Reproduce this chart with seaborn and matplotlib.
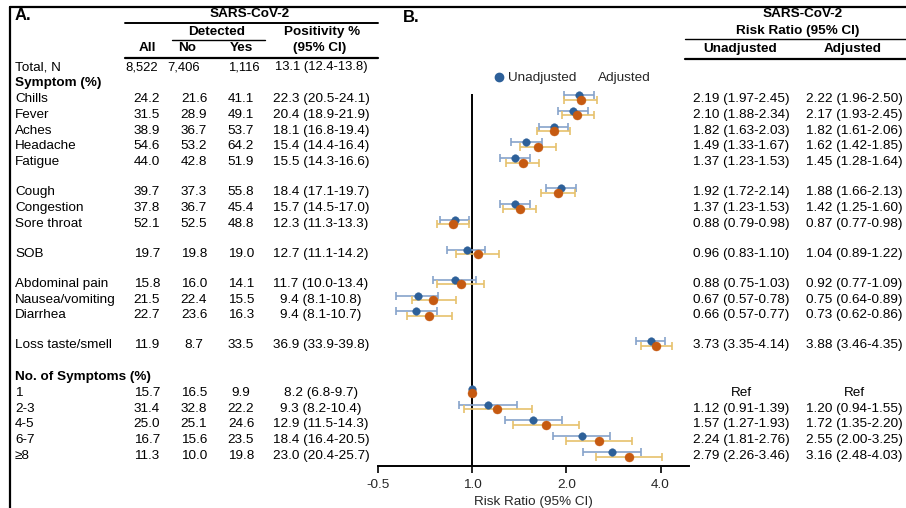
import matplotlib
matplotlib.use("Agg")
import matplotlib.pyplot as plt
from matplotlib.lines import Line2D
import seaborn as sns
import pandas as pd

# Tabla A: porcentajes por síntoma
symptoms = ["Chills", "Fever", "Aches", "Headache", "Fatigue",
            "Cough", "Congestion", "Sore throat",
            "SOB",
            "Abdominal pain", "Nausea/vomiting", "Diarrhea",
            "Loss taste/smell"]
symptom_group = [0, 0, 0, 0, 0, 1, 1, 1, 2, 3, 3, 3, 4]
all_pct = [24.2, 31.5, 38.9, 54.6, 44.0, 39.7, 37.8, 52.1, 19.7, 15.8, 21.5, 22.7, 11.9]
no_pct = [21.6, 28.9, 36.7, 53.2, 42.8, 37.3, 36.7, 52.5, 19.8, 16.0, 22.4, 23.6, 8.7]
yes_pct = [41.1, 49.1, 53.7, 64.2, 51.9, 55.8, 45.4, 48.8, 19.0, 14.1, 15.5, 16.3, 33.5]
positivity = ["22.3 (20.5-24.1)", "20.4 (18.9-21.9)", "18.1 (16.8-19.4)", "15.4 (14.4-16.4)",
              "15.5 (14.3-16.6)", "18.4 (17.1-19.7)", "15.7 (14.5-17.0)", "12.3 (11.3-13.3)",
              "12.7 (11.1-14.2)", "11.7 (10.0-13.4)", "9.4 (8.1-10.8)", "9.4 (8.1-10.7)",
              "36.9 (33.9-39.8)"]

# Razón de riesgo por síntoma
rr_unadj = [2.19, 2.10, 1.82, 1.49, 1.37, 1.92, 1.37, 0.88, 0.96, 0.88, 0.67, 0.66, 3.73]
lo_unadj = [1.97, 1.88, 1.63, 1.33, 1.23, 1.72, 1.23, 0.79, 0.83, 0.75, 0.57, 0.57, 3.35]
hi_unadj = [2.45, 2.34, 2.03, 1.67, 1.53, 2.14, 1.53, 0.98, 1.10, 1.03, 0.78, 0.77, 4.14]
rr_adj = [2.22, 2.17, 1.82, 1.62, 1.45, 1.88, 1.42, 0.87, 1.04, 0.92, 0.75, 0.73, 3.88]
lo_adj = [1.96, 1.93, 1.61, 1.42, 1.28, 1.66, 1.25, 0.77, 0.89, 0.77, 0.64, 0.62, 3.46]
hi_adj = [2.50, 2.45, 2.06, 1.85, 1.64, 2.13, 1.60, 0.98, 1.22, 1.09, 0.89, 0.86, 4.35]

# Número de síntomas
n_symptoms = ["1", "2-3", "4-5", "6-7", "\u22658"]
ns_all = [15.7, 31.4, 25.0, 16.7, 11.3]
ns_no = [16.5, 32.8, 25.1, 15.6, 10.0]
ns_yes = [9.9, 22.2, 24.6, 23.5, 19.8]
ns_positivity = ["8.2 (6.8-9.7)", "9.3 (8.2-10.4)", "12.9 (11.5-14.3)",
                 "18.4 (16.4-20.5)", "23.0 (20.4-25.7)"]
ns_rr_unadj = [1.0, 1.12, 1.57, 2.24, 2.79]
ns_lo_unadj = [1.0, 0.91, 1.27, 1.81, 2.26]
ns_hi_unadj = [1.0, 1.39, 1.93, 2.76, 3.46]
ns_rr_adj = [1.0, 1.20, 1.72, 2.55, 3.16]
ns_lo_adj = [1.0, 0.94, 1.35, 2.00, 2.48]
ns_hi_adj = [1.0, 1.55, 2.20, 3.25, 4.03]

total_n = ["8,522", "7,406", "1,116", "13.1 (12.4-13.8)"]

x_ticks = [0.5, 1.0, 2.0, 4.0]
x_tick_labels = ["-0.5", "1.0", "2.0", "4.0"]

BLUE = "#2d6099"
ORANGE = "#c65a11"
BLUE_CI = "#86a3cb"
ORANGE_CI = "#e6c16c"

W, H = 906, 508
FS = 9.7

sns.set_theme(style="white")
plt.rcParams["font.family"] = ["Liberation Sans", "DejaVu Sans"]

fig = plt.figure(figsize=(W / 100, H / 100), dpi=100)
fig.patch.set_facecolor("white")


def fx(x):
    return x / W


def fy(y):
    return 1 - y / H


def txt(x, y, s, ha="center", bold=False, size=FS):
    fig.text(fx(x), fy(y), s, ha=ha, va="center", fontsize=size,
             fontweight="bold" if bold else "normal", color="black")


def hline(x0, x1, y, lw=1.0):
    fig.add_artist(Line2D([fx(x0), fx(x1)], [fy(y), fy(y)], transform=fig.transFigure,
                          color="black", lw=lw))


# posiciones de las filas (píxeles)
step = 15.8
gap = 14.2
sym_y = []
y = 99.0
for i, g in enumerate(symptom_group):
    if i > 0:
        y += step + (gap if g != symptom_group[i - 1] else 0)
    sym_y.append(y)
ns_head_y = sym_y[-1] + 2 * step
ns_y = [ns_head_y + step * (i + 1) for i in range(len(n_symptoms))]

# marco
hline(10, W, 7, lw=1.6)
fig.add_artist(Line2D([fx(10), fx(10)], [fy(7), 0], transform=fig.transFigure, color="black", lw=1.6))

# encabezados tabla A
txt(15, 15, "A.", ha="left", bold=True, size=12)
txt(250, 14, "SARS-CoV-2", bold=True)
hline(125, 378, 23, lw=1.4)
txt(217, 32, "Detected", bold=True)
hline(172, 265, 40, lw=1.0)
txt(322, 32, "Positivity %", bold=True)
txt(320, 48, "(95% CI)", bold=True)
txt(147, 48, "All", bold=True)
txt(187, 48, "No", bold=True)
txt(241, 48, "Yes", bold=True)
hline(125, 378, 58, lw=1.6)

# encabezados tabla B
txt(403, 18, "B.", ha="left", bold=True, size=12)
txt(803, 14, "SARS-CoV-2", bold=True)
txt(798, 31, "Risk Ratio (95% CI)", bold=True)
hline(685, W, 39, lw=1.0)
txt(740, 49, "Unadjusted", bold=True)
txt(853, 49, "Adjusted", bold=True)
hline(685, W, 59, lw=1.6)

col_x = [147, 194, 241, 321]

# fila total
txt(15, 67, "Total, N", ha="left")
for x, s in zip([142, 184, 244, 321], total_n):
    txt(x, 67, s, size=9.4)
txt(15, 83, "Symptom (%)", ha="left", bold=True)

for i, name in enumerate(symptoms):
    yy = sym_y[i]
    txt(15, yy, name, ha="left")
    for x, v in zip(col_x, [f"{all_pct[i]:.1f}", f"{no_pct[i]:.1f}", f"{yes_pct[i]:.1f}", positivity[i]]):
        txt(x, yy, v)
    txt(741, yy, f"{rr_unadj[i]:.2f} ({lo_unadj[i]:.2f}-{hi_unadj[i]:.2f})")
    txt(854, yy, f"{rr_adj[i]:.2f} ({lo_adj[i]:.2f}-{hi_adj[i]:.2f})")

txt(15, ns_head_y, "No. of Symptoms (%)", ha="left", bold=True)
for i, name in enumerate(n_symptoms):
    yy = ns_y[i]
    txt(15, yy, name, ha="left")
    for x, v in zip(col_x, [f"{ns_all[i]:.1f}", f"{ns_no[i]:.1f}", f"{ns_yes[i]:.1f}", ns_positivity[i]]):
        txt(x, yy, v)
    if i == 0:
        txt(741, yy, "Ref")
        txt(854, yy, "Ref")
    else:
        txt(741, yy, f"{ns_rr_unadj[i]:.2f} ({ns_lo_unadj[i]:.2f}-{ns_hi_unadj[i]:.2f})")
        txt(854, yy, f"{ns_rr_adj[i]:.2f} ({ns_lo_adj[i]:.2f}-{ns_hi_adj[i]:.2f})")

# gráfico de bosque
ax = fig.add_axes([fx(378), 42 / H, 311 / W, 406 / H])
ax.set_facecolor("none")

rows_y = sym_y + ns_y
df = pd.DataFrame({
    "y": rows_y + rows_y,
    "rr": rr_unadj + ns_rr_unadj + rr_adj + ns_rr_adj,
    "lo": lo_unadj + ns_lo_unadj + lo_adj + ns_lo_adj,
    "hi": hi_unadj + ns_hi_unadj + hi_adj + ns_hi_adj,
    "model": ["Unadjusted"] * len(rows_y) + ["Adjusted"] * len(rows_y),
})
df["y_plot"] = df["y"] + df["model"].map({"Unadjusted": -4.0, "Adjusted": 0.5})

ax.vlines(1.0, 94, 466, color="black", lw=1.4, zorder=1)

for model, ci_col in [("Unadjusted", BLUE_CI), ("Adjusted", ORANGE_CI)]:
    d = df[(df["model"] == model) & (df["hi"] > df["lo"])]
    ax.errorbar(d["rr"], d["y_plot"], xerr=[d["rr"] - d["lo"], d["hi"] - d["rr"]],
                fmt="none", ecolor=ci_col, elinewidth=1.2, capsize=3, capthick=1.2, zorder=2)
for model, col, size in [("Unadjusted", BLUE, 30), ("Adjusted", ORANGE, 42)]:
    d = df[df["model"] == model]
    sns.scatterplot(data=d, x="rr", y="y_plot", ax=ax, color=col, s=size,
                    edgecolor=col, linewidth=0.3, legend=False, zorder=3)

ax.set_xscale("log", base=2)
ax.set_xlim(0.5, 4.93)
ax.set_ylim(466, 60)
ax.set_xticks(x_ticks)
ax.set_xticklabels(x_tick_labels, fontsize=FS)
ax.minorticks_off()
ax.set_yticks([])
ax.set_xlabel("Risk Ratio (95% CI)", fontsize=FS, labelpad=4)
ax.set_ylabel("")
for side in ["top", "right", "left"]:
    ax.spines[side].set_visible(False)
ax.spines["bottom"].set_color("black")
ax.spines["bottom"].set_linewidth(1.4)
ax.tick_params(axis="x", direction="out", length=5, width=1.2, color="black", bottom=True, pad=4)

handles = [Line2D([], [], marker="o", color=BLUE, ls="", ms=6),
           Line2D([], [], ls="", marker=None)]
ax.legend(handles, ["Unadjusted", "Adjusted"], ncol=2, frameon=False, fontsize=FS,
          loc="center left", bbox_to_anchor=(fx(481), fy(78)), bbox_transform=fig.transFigure,
          handlelength=0.8, handletextpad=0.3, columnspacing=0.5, borderpad=0.4)

fig.savefig("out.png", dpi=100, facecolor="white")
